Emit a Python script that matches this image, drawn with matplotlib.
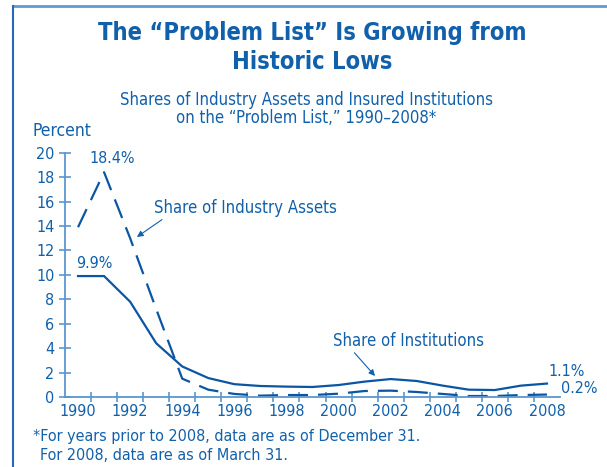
import numpy as np
import matplotlib.pyplot as plt
from matplotlib.lines import Line2D

plt.rcParams['font.family'] = ['DejaVu Sans']
plt.rcParams['font.stretch'] = 'condensed'

# data (percent)
years = list(range(1990, 2009))
institutions = [9.9, 9.9, 7.8, 4.4, 2.5, 1.55, 1.05, 0.9, 0.85, 0.82,
                0.98, 1.26, 1.47, 1.31, 0.93, 0.6, 0.57, 0.93, 1.1]
assets = [13.9, 18.4, 13.0, 7.2, 1.5, 0.6, 0.25, 0.11, 0.16, 0.16,
          0.27, 0.49, 0.52, 0.41, 0.25, 0.08, 0.08, 0.16, 0.2]
ytick_vals = list(range(0, 21, 2))
xlabel_years = list(range(1990, 2009, 2))

TXT = '#1160ab'
LINE = '#0b56a3'
AXC = '#5a96d0'

fig = plt.figure(figsize=(6.07, 4.67), dpi=100)
W, H = 607.0, 467.0

def fx(px):
    return px / W

def fy(py):
    return 1 - py / H

ax = fig.add_axes([fx(65), fy(397), fx(560) - fx(65), fy(152.7) - fy(397)])

ax.plot(years, institutions, color=LINE, lw=1.6, solid_joinstyle='miter')
ax.plot(years, assets, color=LINE, lw=1.6, dashes=(9, 4.5))

ax.set_xlim(1989.5, 2008.5)
ax.set_ylim(0, 20)

for s in ['top', 'right']:
    ax.spines[s].set_visible(False)
for s in ['left', 'bottom']:
    ax.spines[s].set_color(AXC)
    ax.spines[s].set_linewidth(1.3)

ax.set_yticks(ytick_vals)
ax.set_yticklabels([str(v) for v in ytick_vals])
ax.tick_params(axis='y', direction='inout', length=8, width=1.2, color=AXC,
               labelcolor=TXT, labelsize=11.5, pad=3.5)

ax.set_xticks(np.arange(1990.5, 2008, 1.0))
ax.set_xticklabels([])
ax.set_xticks(xlabel_years, minor=True)
ax.set_xticklabels([str(y) for y in xlabel_years], minor=True)
ax.tick_params(axis='x', which='major', direction='inout', length=7, width=1.2, color=AXC)
ax.tick_params(axis='x', which='minor', length=0, labelcolor=TXT, labelsize=11.5, pad=5)

ax.patch.set_alpha(0)

# annotations
ax.text(1991.3, 18.9, '18.4%', color=TXT, fontsize=11.5, ha='center', va='bottom')
ax.text(1990.63, 10.3, '9.9%', color=TXT, fontsize=11.5, ha='center', va='bottom')
ax.text(2008.05, 1.45, '1.1%', color=TXT, fontsize=11.5, ha='left', va='bottom')
ax.text(2008.55, 0.05, '0.2%', color=TXT, fontsize=11.5, ha='left', va='bottom')
ax.annotate('Share of Industry Assets', xy=(1992.26, 13.1), xytext=(1992.92, 14.75),
            color=TXT, fontsize=12, ha='left', va='bottom',
            arrowprops=dict(arrowstyle='-|>', color=TXT, lw=0.8,
                            mutation_scale=9, shrinkA=0, shrinkB=0,
                            relpos=(0.065, 0.0)))
ax.annotate('Share of Institutions', xy=(2001.4, 1.72), xytext=(1999.79, 3.85),
            color=TXT, fontsize=12, ha='left', va='bottom',
            arrowprops=dict(arrowstyle='-|>', color=TXT, lw=0.8,
                            mutation_scale=9, shrinkA=0, shrinkB=0,
                            relpos=(0.125, 0.0)))

# titles
fig.text(fx(312), fy(33), 'The \u201cProblem List\u201d Is Growing from', color=TXT,
         fontsize=17, fontweight='bold', ha='center', va='center')
fig.text(fx(312), fy(62), 'Historic Lows', color=TXT,
         fontsize=17, fontweight='bold', ha='center', va='center')
fig.text(fx(306), fy(100), 'Shares of Industry Assets and Insured Institutions',
         color=TXT, fontsize=12, ha='center', va='center')
fig.text(fx(306), fy(118), 'on the \u201cProblem List,\u201d 1990\u20132008*',
         color=TXT, fontsize=12, ha='center', va='center')
fig.text(fx(32), fy(131), 'Percent', color=TXT, fontsize=12.5, ha='left', va='center')

fig.text(fx(33), fy(436), '*For years prior to 2008, data are as of December 31.',
         color=TXT, fontsize=11.5, ha='left', va='center')
fig.text(fx(40), fy(455), 'For 2008, data are as of March 31.',
         color=TXT, fontsize=11.5, ha='left', va='center')

# frame lines
fig.add_artist(Line2D([fx(13), 1.0], [fy(6), fy(6)], color='#5d9bd3', lw=2.0))
fig.add_artist(Line2D([fx(13), fx(13)], [fy(6), 0.0], color='#2a67b5', lw=1.5))

fig.savefig('out.png', dpi=100)
